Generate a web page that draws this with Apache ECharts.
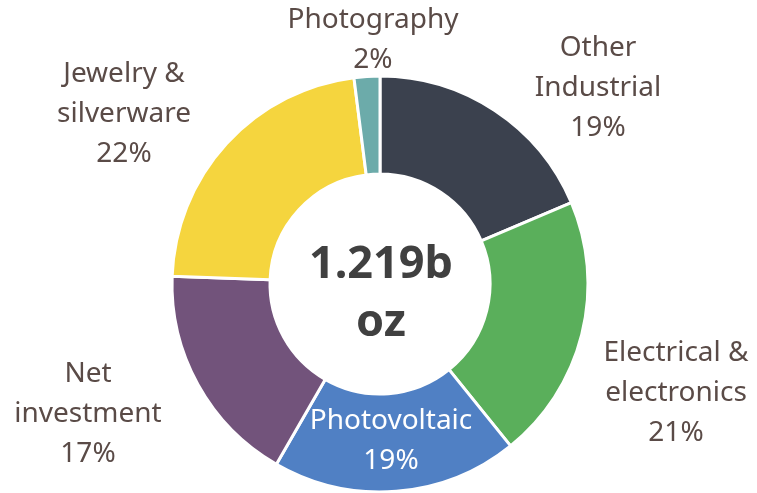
<!DOCTYPE html>
<html>
<head>
<meta charset="utf-8">
<script src="https://cdn.jsdelivr.net/npm/echarts@6/dist/echarts.min.js"></script>
<style>
  html, body { margin: 0; padding: 0; background: #ffffff; }
  #main { width: 757px; height: 493px; }
</style>
</head>
<body>
<div id="main"></div>
<script>
// silver demand by use (share of total, %)
var categories = ['Other\nIndustrial', 'Electrical &\nelectronics', 'Photovoltaic', 'Net\ninvestment', 'Jewelry &\nsilverware', 'Photography'];
var shares = [18.6, 20.6, 19.1, 17.3, 22.4, 2.0];
var centerLabel = ['1.219b', 'oz'];

var colors = ['#3b414e', '#5aaf5b', '#5080c4', '#72537b', '#f5d53e', '#6cabaa'];
// label anchor points (px)
var labelPos = [[598, 88], [676, 393], [391, 441], [88, 414], [124, 114], [373, 40]];

var myChart = echarts.init(document.getElementById('main'));
myChart.setOption({
  animation: false,
  color: colors,
  textStyle: { fontFamily: 'Noto Sans' },
  graphic: [
    {
      type: 'text',
      x: 381, y: 294,
      style: {
        text: centerLabel.join('\n'),
        fill: '#404040',
        font: 'bold 45px "Noto Sans"',
        lineHeight: 58,
        align: 'center',
        verticalAlign: 'middle'
      }
    }
  ],
  series: [
    {
      type: 'pie',
      center: [380, 284],
      radius: [110, 208],
      startAngle: 90,
      clockwise: true,
      itemStyle: { borderColor: '#ffffff', borderWidth: 3 },
      label: {
        show: true,
        position: 'outside',
        formatter: function (p) { return p.name + '\n' + Math.round(p.value) + '%'; },
        color: '#5a4b47',
        fontSize: 28,
        lineHeight: 40,
        align: 'center',
        overflow: 'none'
      },
      labelLine: { show: false },
      labelLayout: function (p) {
        var pos = labelPos[p.dataIndex];
        return { x: pos[0], y: pos[1], align: 'center', verticalAlign: 'middle', hideOverlap: false };
      },
      data: categories.map(function (c, i) {
        var d = { name: c, value: shares[i] };
        if (i === 2) d.label = { color: '#ffffff' };
        return d;
      })
    }
  ]
});
</script>
</body>
</html>
